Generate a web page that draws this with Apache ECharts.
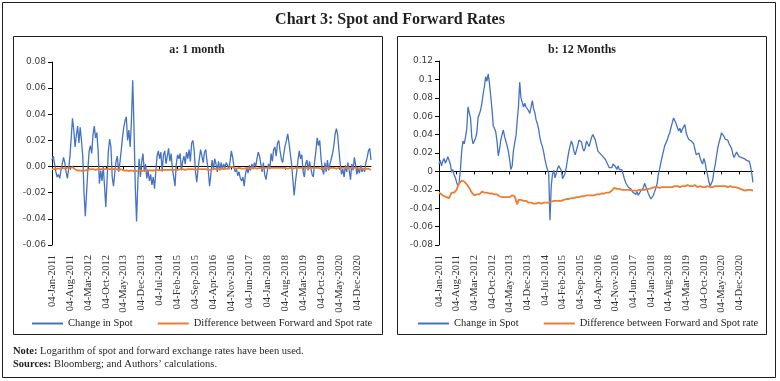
<!DOCTYPE html>
<html><head><meta charset="utf-8">
<script src="https://cdn.jsdelivr.net/npm/echarts/dist/echarts.min.js"></script>
<style>html,body{margin:0;padding:0;background:#fff}#c{width:780px;height:381px}</style>
</head><body><div id="c"></div><script>
// ---- data (half-monthly observations, 04 and 19 of each month, Jan-2011 .. May-2021) ----
const monthNames = ['Jan','Feb','Mar','Apr','May','Jun','Jul','Aug','Sep','Oct','Nov','Dec'];
const startYear = 2011;
const nPoints = 250;
const labelStep = 14; // a label every 7 months

const leftSpot = [
0.005,0.008,0.002,-0.004,-0.008,-0.006,-0.009,-0.003,0.002,0.007,
0.003,-0.004,-0.009,-0.002,0.008,
0.022,0.037,0.028,0.015,0.024,0.031,0.018,0.030,0.020,0.008,
-0.02,-0.038,-0.02,-0.002,0.012,0.016,0.01,0.024,0.031,0.022,0.026,0.012,
-0.013,-0.003,-0.011,0.0,-0.015,-0.031,-0.01,0.012,0.021,0.015,
-0.008,-0.015,-0.005,0.004,0.008,-0.004,0.003,0.012,0.022,
0.03,0.035,0.038,0.02,0.028,0.015,0.035,0.066,0.03,-0.015,-0.042,-0.012,
0.006,-0.008,0.004,0.01,-0.004,0.002,-0.009,-0.003,-0.011,-0.006,-0.014,
-0.008,-0.017,-0.004,0.008,0.012,0.006,0.011,-0.004,0.009,0.012,
0.002,0.008,0.014,0.004,0.01,-0.002,-0.008,-0.015,0.002,0.009,0.006,0.01,-0.003,0.004,0.008,0.002,0.011,0.006,0.013,0.004,
0.018,0.02,0.012,-0.004,-0.012,-0.002,0.006,0.013,0.008,0.003,0.011,0.013,0.004,-0.003,-0.015,-0.006,0.005,-0.002,0.006,0.002,-0.004,0.004,-0.003,0.003,-0.002,0.002,-0.001,0.003,0.001,-0.002,0.004,
0.012,0.007,0.0,-0.004,-0.002,-0.007,-0.004,-0.009,-0.011,-0.008,-0.015,-0.006,-0.001,-0.005,0.001,-0.003,0.002,-0.002,0.003,0.0,0.006,0.011,0.008,0.002,-0.004,0.003,-0.006,-0.01,-0.004,0.002,-0.002,
0.01,0.004,0.013,0.015,0.008,0.018,0.02,0.012,0.006,0.003,0.01,0.016,0.02,0.025,0.018,0.01,0.002,-0.01,-0.022,-0.012,-0.004,0.005,0.012,0.006,0.009,-0.004,-0.008,0.002,0.005,-0.003,0.004,
0.003,-0.006,-0.008,0.004,0.012,0.022,0.016,0.02,0.006,-0.002,-0.006,0.003,-0.004,0.005,-0.003,0.002,0.006,0.01,0.016,0.025,0.029,0.024,0.012,0.002,-0.006,-0.002,-0.008,0.001,-0.004,0.003,-0.003,-0.01,
0.002,-0.003,0.007,0.001,-0.006,-0.002,-0.005,0.001,-0.004,-0.001,-0.004,0.003,0.007,0.012,0.014,0.005
];

const leftDiff = [
-0.002,-0.002,-0.002,-0.0015,-0.0015,-0.002,-0.0015,-0.0015,-0.001,-0.0015,
-0.0015,-0.001,-0.001,-0.0015,-0.001,0,-0.0005,-0.001,-0.002,
-0.0025,-0.003,-0.003,-0.003,-0.0035,-0.0035,-0.003,-0.003,-0.003,-0.0025,
-0.0025,-0.002,-0.002,-0.002,-0.002,-0.0025,-0.002,-0.002,-0.0025,-0.002,
-0.002,-0.002,-0.0025,-0.002,-0.002,-0.002,-0.0025,-0.002,-0.002,
-0.002,-0.0025,-0.002,-0.002,-0.0025,-0.002,-0.002,-0.0025,-0.003,-0.003,
-0.003,-0.003,-0.0035,-0.003,-0.003,-0.0035,-0.0035,-0.003,-0.0035,-0.003,
-0.003,-0.003,-0.0035,-0.003,-0.003,-0.003,-0.0025,-0.003,-0.003,-0.0025,
-0.003,-0.0025,-0.003,-0.0025,-0.0025,-0.0025,-0.003,-0.0025,-0.0025,
-0.0025,-0.0025,-0.002,-0.0025,-0.0025,-0.0025,-0.002,-0.0025,-0.0025,-0.0025,
-0.002,-0.0025,-0.0025,-0.002,-0.0025,-0.002,-0.0025,-0.0025,-0.002,-0.002,
-0.0025,-0.002,-0.0025,-0.002,-0.002,-0.0025,-0.0025,-0.002,-0.002,
-0.002,-0.0025,-0.002,-0.002,-0.002,-0.002,-0.0025,-0.003,-0.0025,-0.002,
-0.002,-0.002,-0.0015,-0.002,-0.002,-0.002,-0.0015,-0.002,-0.002,-0.0015,
-0.0015,-0.002,-0.0015,-0.001,0,-0.0005,-0.001,-0.0015,-0.0015,
-0.0015,-0.001,-0.0015,-0.0015,-0.001,-0.0015,-0.0015,-0.001,-0.001,-0.0015,
-0.001,-0.001,-0.0015,-0.001,-0.001,-0.0015,-0.001,-0.001,-0.001,-0.0015,
-0.001,-0.001,-0.0015,-0.001,-0.001,-0.001,-0.001,-0.001,-0.001,
-0.001,-0.0015,-0.001,-0.001,-0.001,-0.0015,-0.001,-0.001,-0.001,-0.001,
-0.0015,-0.001,-0.001,-0.001,-0.0015,-0.0015,-0.001,-0.001,-0.001,-0.001,
-0.001,-0.0015,-0.001,-0.001,-0.001,-0.001,-0.0015,-0.001,-0.001,
-0.001,-0.001,-0.0015,-0.001,-0.001,-0.001,-0.001,-0.0015,-0.001,-0.001,
-0.001,-0.001,-0.001,-0.0015,-0.001,-0.001,-0.001,-0.001,-0.001,-0.0015,
-0.001,-0.001,-0.001,-0.001,-0.0015,-0.001,-0.001,-0.001,-0.001,-0.001,
-0.001,-0.001,-0.001,-0.001,-0.0015,-0.001,-0.001,-0.0015,-0.0015,
-0.0015,-0.0015,-0.002,-0.0015,-0.0015,-0.002,-0.002,-0.0025
];

const rightSpot = [
0.008,0.012,0.006,0.011,0.014,0.009,0.012,0.016,0.017,0.008,
-0.001,0.002,-0.004,-0.007,-0.012,-0.016,-0.012,0.002,0.022,0.033,
0.03,0.037,0.046,0.07,0.072,0.058,0.037,0.03,0.033,0.036,
0.042,0.059,0.062,0.067,0.074,0.084,0.092,0.103,0.098,0.106,
0.096,0.082,0.068,0.05,0.048,0.043,0.033,0.017,0.024,0.034,
0.04,0.045,0.038,0.033,0.028,0.022,0.013,0.002,0.006,0.022,
0.031,0.038,0.055,0.07,0.097,0.08,0.075,0.07,0.074,0.07,
0.068,0.066,0.063,0.07,0.077,0.068,0.064,0.056,0.052,0.046,
0.037,0.031,0.027,0.021,0.013,0.007,0.002,-0.002,-0.053,-0.016,
-0.003,0.001,-0.007,-0.002,0.003,0.006,0.006,0.001,-0.008,-0.01,
-0.002,0.005,0.014,0.022,0.028,0.033,0.029,0.022,0.018,0.02,
0.028,0.034,0.035,0.032,0.025,0.022,0.026,0.033,0.031,0.027,
0.025,0.037,0.04,0.038,0.034,0.028,0.022,0.02,0.019,0.02,
0.016,0.017,0.013,0.011,0.007,0.004,0.002,0.004,0.008,0.006,
0.005,0.002,0.006,0.002,0.0,0.002,-0.003,-0.008,-0.012,-0.014,
-0.017,-0.016,-0.019,-0.02,-0.023,-0.024,-0.025,-0.022,-0.026,-0.024,
-0.021,-0.02,-0.018,-0.013,-0.015,-0.02,-0.024,-0.027,-0.03,-0.031,
-0.026,-0.022,-0.018,-0.013,-0.003,0.003,0.01,0.016,0.022,0.028,
0.031,0.034,0.039,0.042,0.048,0.053,0.058,0.055,0.052,0.05,
0.044,0.047,0.042,0.046,0.048,0.051,0.042,0.038,0.035,0.036,
0.033,0.032,0.03,0.024,0.018,0.02,0.02,0.015,0.011,0.008,
0.014,0.01,0.002,-0.004,-0.011,-0.016,-0.017,-0.01,0.0,0.007,
0.016,0.025,0.031,0.036,0.042,0.044,0.038,0.035,0.033,0.034,
0.03,0.031,0.025,0.019,0.015,0.017,0.021,0.019,0.016,0.018,
0.015,0.016,0.014,0.013,0.012,0.01,0.011,0.006,-0.002,-0.012
];

const rightDiff = [
-0.023,-0.024,-0.025,-0.026,-0.027,-0.027,-0.028,-0.029,-0.029,-0.027,
-0.023,-0.025,-0.023,-0.021,-0.02,-0.016,-0.013,-0.012,-0.01,-0.009,
-0.011,-0.013,-0.014,-0.013,-0.018,-0.02,-0.023,-0.025,-0.026,-0.027,
-0.025,-0.024,-0.025,-0.023,-0.022,-0.021,-0.023,-0.024,-0.023,-0.023,
-0.024,-0.023,-0.024,-0.025,-0.025,-0.024,-0.025,-0.026,-0.027,-0.027,
-0.028,-0.029,-0.028,-0.027,-0.028,-0.029,-0.028,-0.027,-0.026,-0.025,
-0.027,-0.029,-0.036,-0.031,-0.032,-0.031,-0.032,-0.032,-0.033,-0.032,
-0.033,-0.034,-0.033,-0.034,-0.034,-0.035,-0.034,-0.035,-0.035,-0.034,
-0.036,-0.035,-0.035,-0.034,-0.034,-0.034,-0.035,-0.034,-0.034,-0.033,
-0.033,-0.032,-0.033,-0.032,-0.031,-0.032,-0.031,-0.032,-0.032,-0.031,
-0.031,-0.030,-0.031,-0.030,-0.030,-0.029,-0.030,-0.029,-0.029,-0.028,
-0.029,-0.028,-0.028,-0.027,-0.028,-0.027,-0.027,-0.026,-0.027,-0.026,
-0.026,-0.026,-0.025,-0.026,-0.025,-0.025,-0.024,-0.025,-0.024,-0.024,
-0.023,-0.024,-0.023,-0.023,-0.022,-0.023,-0.022,-0.021,-0.019,-0.018,
-0.018,-0.019,-0.018,-0.019,-0.019,-0.02,-0.019,-0.02,-0.02,-0.02,
-0.021,-0.02,-0.02,-0.021,-0.021,-0.021,-0.02,-0.021,-0.02,-0.02,
-0.019,-0.02,-0.019,-0.02,-0.019,-0.019,-0.02,-0.019,-0.018,-0.018,
-0.017,-0.017,-0.018,-0.017,-0.017,-0.018,-0.017,-0.017,-0.016,-0.017,
-0.017,-0.017,-0.016,-0.017,-0.016,-0.017,-0.017,-0.016,-0.017,-0.016,
-0.016,-0.017,-0.016,-0.016,-0.015,-0.016,-0.016,-0.015,-0.016,-0.016,
-0.015,-0.016,-0.015,-0.015,-0.016,-0.017,-0.016,-0.016,-0.017,-0.017,
-0.016,-0.017,-0.017,-0.016,-0.017,-0.017,-0.016,-0.017,-0.017,-0.016,
-0.016,-0.016,-0.017,-0.016,-0.016,-0.016,-0.015,-0.016,-0.016,-0.017,
-0.016,-0.016,-0.017,-0.017,-0.018,-0.017,-0.018,-0.018,-0.019,-0.019,
-0.019,-0.02,-0.02,-0.021,-0.021,-0.02,-0.022,-0.02,-0.021,-0.021
];

const leftYTicks = {min:-0.06, max:0.08, interval:0.02};
const rightYTicks = {min:-0.08, max:0.12, interval:0.02};
const seriesNames = ['Change in Spot','Difference between Forward and Spot rate'];

// category labels (dates)
const categories = [];
for (let i = 0; i < nPoints; i++) {
  const m = Math.floor(i / 2);
  categories.push((i % 2 ? '19' : '04') + '-' + monthNames[m % 12] + '-' + (startYear + Math.floor(m / 12)));
}

// ---- styling ----
const SERIF = '"Liberation Serif", "DejaVu Serif", serif';
const SANS = '"DejaVu Sans", sans-serif';
const BLUE = '#4472C4', ORANGE = '#ED7D31', INK = '#231f20';

function xAxesFor(gi) {
  return [
    {type:'category', gridIndex:gi, data:categories, boundaryGap:false, position:'bottom',
     axisLine:{show:false, onZero:false}, axisTick:{show:false}, splitLine:{show:false},
     axisLabel:{interval:labelStep-1, rotate:90, fontFamily:SERIF, fontSize:10.5, color:'#333', margin:10}},
    {type:'category', gridIndex:gi, data:categories, boundaryGap:false, position:'top',
     axisLine:{show:true, onZero:true, lineStyle:{color:'#000', width:1}},
     axisTick:{show:true, inside:true, interval:labelStep-1, length:3, lineStyle:{color:'#000'}},
     axisLabel:{show:false}, splitLine:{show:false}}
  ];
}
function yAxisFor(gi, t, fmt) {
  return {type:'value', gridIndex:gi, min:t.min, max:t.max, interval:t.interval,
    axisLine:{show:true, onZero:false, lineStyle:{color:'#000', width:1}},
    axisTick:{show:true, length:4, lineStyle:{color:'#000'}},
    splitLine:{show:false},
    axisLabel:{formatter:fmt, fontFamily:SANS, fontSize:9, color:'#404040', margin:6}};
}
function lineSeries(name, xi, yi, data, color, width) {
  return {name:name, type:'line', xAxisIndex:xi, yAxisIndex:yi, data:data, symbol:'none', showSymbol:false,
    lineStyle:{color:color, width:width}, itemStyle:{color:color}, animation:false};
}
function legendAt(left) {
  return {left:left, top:313, itemWidth:31, itemHeight:2, itemGap:25, icon:'rect', data:seriesNames,
    textStyle:{fontFamily:SERIF, fontSize:10.5, color:'#222'}, selectedMode:false};
}

const chart = echarts.init(document.getElementById('c'), null, {renderer:'canvas'});
chart.setOption({
  animation:false,
  backgroundColor:'#fff',
  grid:[
    {left:52, right:409, top:62, bottom:136},
    {left:439, right:27, top:61, bottom:136}
  ],
  xAxis:[].concat(xAxesFor(0), xAxesFor(1)),
  yAxis:[
    yAxisFor(0, leftYTicks, v => v.toFixed(2)),
    yAxisFor(1, rightYTicks, null)
  ],
  legend:[legendAt(27), legendAt(413)],
  series:[
    lineSeries(seriesNames[0], 0, 0, leftSpot, BLUE, 1.3),
    lineSeries(seriesNames[1], 0, 0, leftDiff, ORANGE, 1.8),
    lineSeries(seriesNames[0], 2, 1, rightSpot, BLUE, 1.3),
    lineSeries(seriesNames[1], 2, 1, rightDiff, ORANGE, 1.8)
  ],
  graphic:[
    {type:'rect', silent:true, shape:{x:2.5, y:2.5, width:773, height:375}, style:{fill:'none', stroke:INK, lineWidth:1}},
    {type:'rect', silent:true, shape:{x:13.5, y:36.5, width:369, height:298}, style:{fill:'none', stroke:INK, lineWidth:1}},
    {type:'rect', silent:true, shape:{x:397.5, y:36.5, width:369, height:298}, style:{fill:'none', stroke:INK, lineWidth:1}},
    {type:'text', silent:true, x:390, y:20, style:{text:'Chart 3: Spot and Forward Rates', fontFamily:SERIF, fontSize:16, fontWeight:'bold', fill:INK, align:'center', verticalAlign:'middle'}},
    {type:'text', silent:true, x:197, y:50, style:{text:'a: 1 month', fontFamily:SERIF, fontSize:12, fontWeight:'bold', fill:INK, align:'center', verticalAlign:'middle'}},
    {type:'text', silent:true, x:582, y:50, style:{text:'b: 12 Months', fontFamily:SERIF, fontSize:12, fontWeight:'bold', fill:INK, align:'center', verticalAlign:'middle'}},
    {type:'text', silent:true, x:13, y:351, style:{text:'{b|Note:} Logarithm of spot and forward exchange rates have been used.', fontFamily:SERIF, fontSize:10.5, fill:INK, verticalAlign:'middle',
      rich:{b:{fontFamily:SERIF, fontSize:10.5, fontWeight:'bold', fill:INK}}}},
    {type:'text', silent:true, x:13, y:364, style:{text:'{b|Sources:} Bloomberg; and Authors\u2019 calculations.', fontFamily:SERIF, fontSize:10.5, fill:INK, verticalAlign:'middle',
      rich:{b:{fontFamily:SERIF, fontSize:10.5, fontWeight:'bold', fill:INK}}}}
  ]
});
</script></body></html>
